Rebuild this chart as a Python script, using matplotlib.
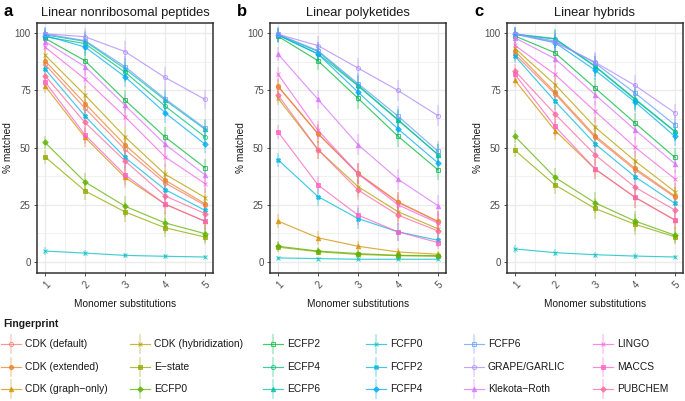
import numpy as np
import matplotlib
matplotlib.use("Agg")
import matplotlib.pyplot as plt
from matplotlib.lines import Line2D

plt.rcParams['font.family'] = ['Liberation Sans', 'DejaVu Sans']

fingerprints = ["CDK (default)", "CDK (extended)", "CDK (graph\u2212only)", "CDK (hybridization)",
                "E\u2212state", "ECFP0", "ECFP2", "ECFP4", "ECFP6", "FCFP0", "FCFP2", "FCFP4",
                "FCFP6", "GRAPE/GARLIC", "Klekota\u2212Roth", "LINGO", "MACCS", "PUBCHEM"]
substitutions = [1, 2, 3, 4, 5]
panel_titles = ["Linear nonribosomal peptides", "Linear polyketides", "Linear hybrids"]
panel_letters = ["a", "b", "c"]
y_ticks = [0, 25, 50, 75, 100]

nrp_values = {
    "CDK (default)": [86.4, 67.2, 49.2, 34.6, 24.8],
    "CDK (extended)": [88.0, 69.3, 51.2, 35.8, 25.5],
    "CDK (graph\u2212only)": [77.0, 54.5, 37.0, 25.3, 17.8],
    "CDK (hybridization)": [90.5, 73.0, 54.7, 38.4, 28.2],
    "E\u2212state": [46.0, 31.1, 21.9, 15.0, 10.9],
    "ECFP0": [52.3, 35.0, 24.4, 17.1, 12.4],
    "ECFP2": [97.8, 88.0, 70.8, 54.7, 41.2],
    "ECFP4": [98.5, 95.5, 83.0, 68.2, 54.7],
    "ECFP6": [99.3, 96.5, 84.5, 70.8, 58.0],
    "FCFP0": [4.8, 3.9, 2.9, 2.5, 2.2],
    "FCFP2": [84.4, 63.8, 45.7, 31.7, 22.6],
    "FCFP4": [99.0, 94.0, 81.0, 65.3, 51.5],
    "FCFP6": [99.7, 96.8, 85.4, 71.4, 58.5],
    "GRAPE/GARLIC": [99.8, 98.5, 92.0, 80.7, 71.1],
    "Klekota\u2212Roth": [96.4, 85.4, 68.5, 51.5, 38.1],
    "LINGO": [94.0, 80.0, 63.5, 46.0, 34.3],
    "MACCS": [78.8, 55.6, 38.1, 25.3, 17.8],
    "PUBCHEM": [81.5, 61.0, 44.2, 28.9, 21.2],
}
pk_values = {
    "CDK (default)": [76.7, 56.0, 38.6, 26.1, 17.6],
    "CDK (extended)": [76.9, 56.2, 38.8, 26.3, 17.8],
    "CDK (graph\u2212only)": [17.9, 10.6, 6.9, 4.4, 3.4],
    "CDK (hybridization)": [71.6, 49.1, 33.0, 22.0, 14.5],
    "E\u2212state": [6.5, 4.5, 3.3, 2.8, 2.5],
    "ECFP0": [6.9, 4.8, 3.7, 2.9, 2.8],
    "ECFP2": [98.7, 88.0, 71.6, 55.0, 40.3],
    "ECFP4": [99.2, 91.0, 77.0, 62.0, 47.0],
    "ECFP6": [99.4, 92.0, 77.3, 62.3, 46.9],
    "FCFP0": [1.8, 1.5, 1.2, 1.2, 1.2],
    "FCFP2": [44.7, 28.6, 19.0, 13.2, 9.5],
    "FCFP4": [99.3, 90.9, 74.3, 58.2, 43.3],
    "FCFP6": [99.6, 92.4, 78.0, 63.8, 48.4],
    "GRAPE/GARLIC": [99.6, 94.6, 84.8, 75.0, 64.0],
    "Klekota\u2212Roth": [90.9, 71.1, 51.3, 36.2, 24.6],
    "LINGO": [82.1, 57.6, 38.6, 25.0, 17.0],
    "MACCS": [56.9, 33.7, 20.5, 13.2, 8.5],
    "PUBCHEM": [73.0, 49.1, 31.5, 20.5, 13.6],
}
hyb_values = {
    "CDK (default)": [90.8, 73.5, 54.5, 40.3, 28.3],
    "CDK (extended)": [92.2, 74.2, 55.2, 41.0, 28.8],
    "CDK (graph\u2212only)": [79.4, 57.5, 40.7, 28.3, 18.3],
    "CDK (hybridization)": [93.4, 77.6, 59.0, 44.2, 30.7],
    "E\u2212state": [48.8, 33.7, 23.4, 16.5, 11.0],
    "ECFP0": [54.9, 37.0, 25.9, 17.9, 11.7],
    "ECFP2": [98.8, 91.5, 76.1, 60.8, 45.7],
    "ECFP4": [99.5, 97.5, 85.5, 71.0, 57.0],
    "ECFP6": [99.7, 97.7, 85.7, 71.4, 57.1],
    "FCFP0": [5.7, 4.1, 3.2, 2.6, 2.2],
    "FCFP2": [90.0, 70.3, 51.7, 37.3, 25.6],
    "FCFP4": [99.6, 95.9, 83.9, 70.0, 54.9],
    "FCFP6": [99.8, 96.6, 87.0, 73.9, 59.9],
    "GRAPE/GARLIC": [99.9, 96.0, 87.4, 77.2, 65.2],
    "Klekota\u2212Roth": [98.0, 88.9, 73.2, 57.8, 42.9],
    "LINGO": [94.7, 82.0, 65.9, 50.2, 36.3],
    "MACCS": [82.0, 59.3, 40.7, 28.3, 18.3],
    "PUBCHEM": [83.5, 64.7, 46.9, 32.7, 22.7],
}
nrp_err = [3.0, 4.0, 4.5, 4.5, 4.0]
pk_err = [3.0, 4.0, 4.5, 4.5, 4.5]
hyb_err = [3.0, 4.0, 4.5, 4.5, 4.0]

panel_values = [nrp_values, pk_values, hyb_values]
panel_errs = [nrp_err, pk_err, hyb_err]


def hcl_rgb(h, c=100.0, l=65.0):
    hr = np.deg2rad(h)
    u, v = c * np.cos(hr), c * np.sin(hr)
    Xn, Yn, Zn = 95.047, 100.0, 108.883
    un = 4 * Xn / (Xn + 15 * Yn + 3 * Zn)
    vn = 9 * Yn / (Xn + 15 * Yn + 3 * Zn)
    Y = Yn * ((l + 16) / 116) ** 3
    up = u / (13 * l) + un
    vp = v / (13 * l) + vn
    X = Y * 9 * up / (4 * vp)
    Z = Y * (12 - 3 * up - 20 * vp) / (4 * vp)
    M = np.array([[3.240479, -1.537150, -0.498535],
                  [-0.969256, 1.875992, 0.041556],
                  [0.055648, -0.204043, 1.057311]])
    rgb = M @ (np.array([X, Y, Z]) / 100.0)
    out = []
    for ch in rgb:
        ch = ch * 12.92 if ch <= 0.0031308 else 1.055 * ch ** (1 / 2.4) - 0.055
        out.append(min(max(ch, 0), 1))
    return tuple(out)


n = len(fingerprints)
hues = np.linspace(15, 375, n + 1)[:n]
colors = [hcl_rgb(h) for h in hues]
markers = ['o', 'o', '^', 'x', 's', 'D', 's', 'o', '^', 'x', 'X', 'D',
           's', 'o', '^', 'x', 's', 'D']
open_m = [True, False, False, False, False, False, True, True, False, False, False, False,
          True, True, False, False, False, False]
msizes = [3.0, 3.0, 3.2, 3.0, 2.6, 2.8, 3.0, 3.0, 3.2, 3.0, 3.0, 2.8,
          3.0, 3.0, 3.2, 3.0, 2.6, 2.8]

fig = plt.figure(figsize=(6.85, 4.01), dpi=100)
W, H = 685, 401
lefts = [37, 270, 507]
pw = 176
top, bottom = 23, 273

grid_c = '#EBEBEB'
text_c = '#1A1A1A'
tick_c = '#4D4D4D'
line_alpha = 0.75
bar_alpha = 0.3

for p in range(3):
    ax = fig.add_axes([lefts[p] / W, 1 - bottom / H, pw / W, (bottom - top) / H])
    ax.set_xlim(0.8, 5.2)
    ax.set_ylim(-4.8, 104.5)
    for xv in [1.5, 2.5, 3.5, 4.5]:
        ax.axvline(xv, color=grid_c, lw=0.5, zorder=0)
    for yv in [12.5, 37.5, 62.5, 87.5]:
        ax.axhline(yv, color=grid_c, lw=0.5, zorder=0)
    for xv in substitutions:
        ax.axvline(xv, color=grid_c, lw=1.0, zorder=0)
    for yv in y_ticks:
        ax.axhline(yv, color=grid_c, lw=1.0, zorder=0)
    vals = panel_values[p]
    errs = panel_errs[p]
    for i, fp in enumerate(fingerprints):
        y = np.array(vals[fp])
        e = np.minimum(np.array(errs), 0.25 * y + 0.5)
        col = colors[i]
        ax.vlines(substitutions, y - e, y + e, color=col, alpha=bar_alpha, lw=1.3, zorder=2)
        ax.plot(substitutions, y, color=col, lw=0.85, alpha=line_alpha, zorder=3,
                marker=markers[i], ms=msizes[i], mew=0.7,
                mfc='none' if open_m[i] else col, mec=col)
    ax.set_xticks(substitutions)
    ax.set_xticklabels([str(s) for s in substitutions], rotation=45, ha='right',
                       rotation_mode='anchor', fontsize=7, color=tick_c)
    ax.set_yticks(y_ticks)
    ax.set_yticklabels([str(t) for t in y_ticks], fontsize=7, color=tick_c)
    ax.tick_params(length=2.5, width=0.6, color='#333333', pad=2)
    for sp in ax.spines.values():
        sp.set_color('#333333')
        sp.set_linewidth(1.1)
    ax.set_xlabel("Monomer substitutions", fontsize=7.3, color=text_c)
    ax.xaxis.set_label_coords(0.5, -(299 - bottom) / (bottom - top), transform=ax.transAxes)
    ax.set_ylabel("% matched", fontsize=7.3, color=text_c)
    ax.yaxis.set_label_coords(-24 / pw, 0.5)
    ax.set_title(panel_titles[p], fontsize=9.3, color=text_c, pad=5)
    fig.text((lefts[p] - 33) / W, 1 - 12 / H, panel_letters[p], fontsize=12,
             fontweight='bold', va='center', ha='left', color='black')

# legend drawn manually in figure pixel coordinates
fig.text(3 / W, 1 - 324 / H, "Fingerprint", fontsize=7.5, fontweight='bold',
         va='center', ha='left', color=text_c)
text_starts = [25, 154, 287, 390, 488, 617]
row_ys = [344, 367, 389]
for i, fp in enumerate(fingerprints):
    col_i, row_i = divmod(i, 3)
    tx = text_starts[col_i]
    kc = tx - 14
    yc = row_ys[row_i]
    col = colors[i]
    fig.add_artist(Line2D([(kc) / W, (kc) / W], [1 - (yc - 9) / H, 1 - (yc + 9) / H],
                          transform=fig.transFigure, color=col, alpha=bar_alpha, lw=1.3))
    fig.add_artist(Line2D([(kc - 10) / W, (kc + 10) / W], [1 - yc / H, 1 - yc / H],
                          transform=fig.transFigure, color=col, alpha=line_alpha, lw=0.85))
    fig.add_artist(Line2D([kc / W], [1 - yc / H], transform=fig.transFigure, color=col,
                          alpha=line_alpha, ls='none', marker=markers[i], ms=msizes[i], mew=0.7,
                          mfc='none' if open_m[i] else col, mec=col))
    fig.text(tx / W, 1 - yc / H, fp, fontsize=7.4, va='center', ha='left', color=text_c)

fig.savefig("out.png", dpi=100)
